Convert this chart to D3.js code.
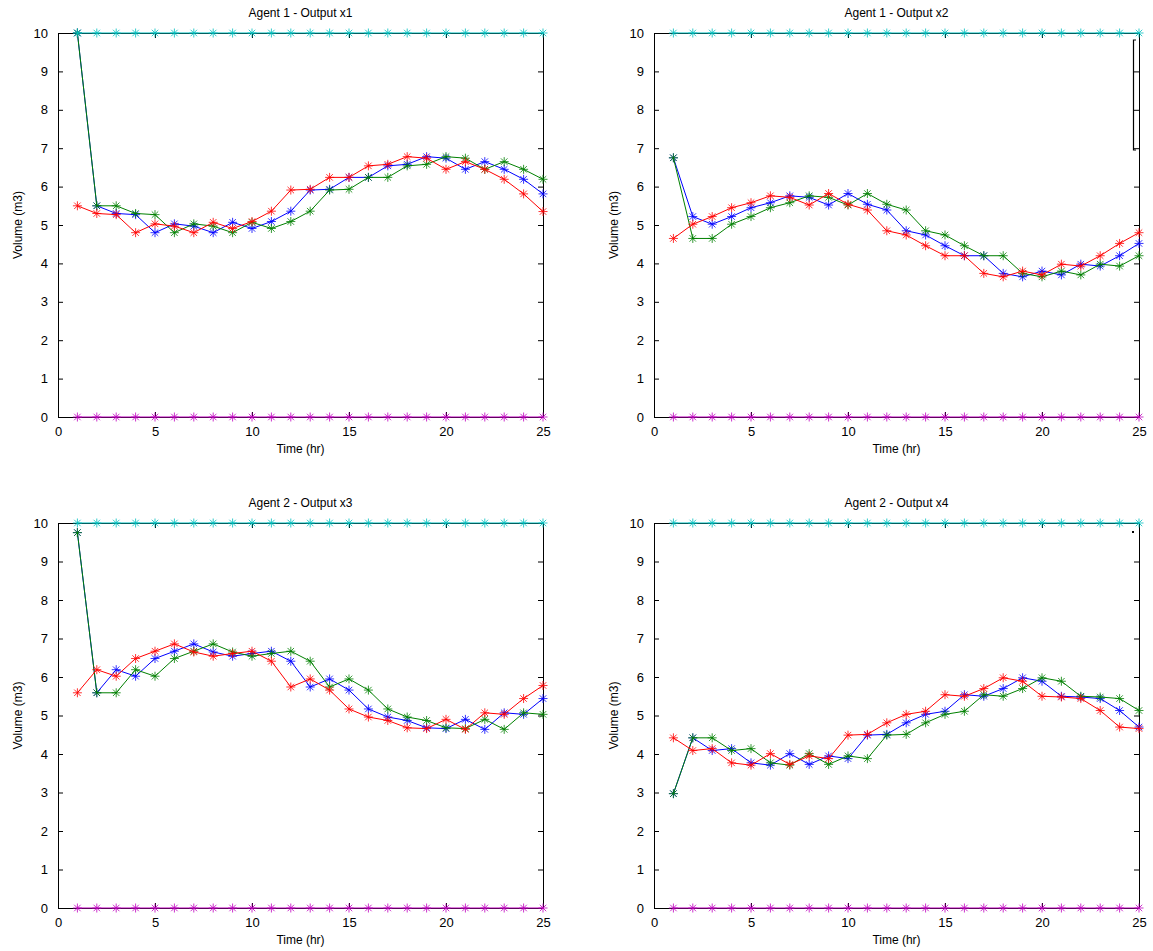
<!DOCTYPE html>
<html><head><meta charset="utf-8">
<script src="https://cdn.jsdelivr.net/npm/d3@7/dist/d3.min.js"></script>
<style>
body{margin:0;background:#fff;}
svg{display:block;}
text{font-family:Arial,"Liberation Sans",sans-serif;fill:#000;}
</style>
</head><body>
<svg id="chart" width="1153" height="951"></svg>
<script>
// ---------- data ----------
const times = [1,2,3,4,5,6,7,8,9,10,11,12,13,14,15,16,17,18,19,20,21,22,23,24,25];
const xTickValues = [0,5,10,15,20,25];
const yTickValues = [0,1,2,3,4,5,6,7,8,9,10];
const panelTitles = ["Agent 1 - Output x1","Agent 1 - Output x2","Agent 2 - Output x3","Agent 2 - Output x4"];
const xLabel = "Time (hr)";
const yLabel = "Volume (m3)";

const upperLimit = [10,10,10,10,10,10,10,10,10,10,10,10,10,10,10,10,10,10,10,10,10,10,10,10,10];
const lowerLimit = [0,0,0,0,0,0,0,0,0,0,0,0,0,0,0,0,0,0,0,0,0,0,0,0,0];

// Output x1
const x1Blue  = [10,5.5,5.3,5.27,4.8,5.03,4.97,4.8,5.07,4.91,5.09,5.36,5.91,5.93,6.24,6.24,6.54,6.58,6.78,6.74,6.45,6.65,6.45,6.19,5.81];
const x1Green = [10,5.5,5.5,5.3,5.27,4.8,5.03,4.97,4.8,5.07,4.91,5.09,5.36,5.91,5.93,6.24,6.24,6.54,6.58,6.78,6.74,6.45,6.65,6.45,6.19];
const x1Red   = [5.5,5.3,5.27,4.8,5.03,4.97,4.8,5.07,4.91,5.09,5.36,5.91,5.93,6.24,6.24,6.54,6.58,6.78,6.74,6.45,6.65,6.45,6.19,5.81,5.35];
// Output x2
const x2Blue  = [6.75,5.22,5.02,5.22,5.45,5.58,5.76,5.72,5.52,5.82,5.54,5.39,4.85,4.74,4.46,4.2,4.2,3.74,3.65,3.8,3.7,3.98,3.93,4.2,4.52];
const x2Green = [6.75,4.65,4.65,5.02,5.22,5.45,5.58,5.76,5.72,5.52,5.82,5.54,5.39,4.85,4.74,4.46,4.2,4.2,3.74,3.65,3.8,3.7,3.98,3.93,4.2];
const x2Red   = [4.65,5.02,5.22,5.45,5.58,5.76,5.72,5.52,5.82,5.54,5.39,4.85,4.74,4.46,4.2,4.2,3.74,3.65,3.8,3.7,3.98,3.93,4.2,4.52,4.8];
// Output x3
const x3Blue  = [9.75,5.59,6.19,6.02,6.48,6.67,6.86,6.65,6.54,6.61,6.67,6.41,5.74,5.95,5.66,5.17,4.96,4.87,4.68,4.66,4.9,4.64,5.07,5.03,5.44];
const x3Green = [9.75,5.59,5.59,6.19,6.02,6.48,6.67,6.86,6.65,6.54,6.61,6.67,6.41,5.74,5.95,5.66,5.17,4.96,4.87,4.68,4.66,4.9,4.64,5.07,5.03];
const x3Red   = [5.59,6.19,6.02,6.48,6.67,6.86,6.65,6.54,6.61,6.67,6.41,5.74,5.95,5.66,5.17,4.96,4.87,4.68,4.66,4.9,4.64,5.07,5.03,5.44,5.78];
// Output x4
const x4Blue  = [2.97,4.42,4.09,4.14,3.77,3.71,4.01,3.73,3.95,3.88,4.49,4.51,4.81,5.03,5.11,5.54,5.5,5.7,5.98,5.89,5.5,5.48,5.44,5.13,4.7];
const x4Green = [2.97,4.42,4.42,4.09,4.14,3.77,3.71,4.01,3.73,3.95,3.88,4.49,4.51,4.81,5.03,5.11,5.54,5.5,5.7,5.98,5.89,5.5,5.48,5.44,5.13];
const x4Red   = [4.42,4.09,4.14,3.77,3.71,4.01,3.73,3.95,3.88,4.49,4.51,4.81,5.03,5.11,5.54,5.5,5.7,5.98,5.89,5.5,5.48,5.44,5.13,4.7,4.66];

const seriesColors = ["#0000ff","#008000","#ff0000","#00bfbf","#bf00bf"];

// ---------- layout ----------
const panels = [
  {left:58,  right:543,  top:33,  bottom:417, series:[x1Blue,x1Green,x1Red,upperLimit,lowerLimit]},
  {left:654, right:1139, top:33,  bottom:417, series:[x2Blue,x2Green,x2Red,upperLimit,lowerLimit]},
  {left:58,  right:543,  top:523, bottom:908, series:[x3Blue,x3Green,x3Red,upperLimit,lowerLimit]},
  {left:654, right:1139, top:523, bottom:908, series:[x4Blue,x4Green,x4Red,upperLimit,lowerLimit]}
];

const svg = d3.select("#chart");

const asterisk = (r) => {
  const d = r*0.72;
  return `M0,${-r}V${r}M${-r},0H${r}M${-d},${-d}L${d},${d}M${-d},${d}L${d},${-d}`;
};

panels.forEach((p, i) => {
  const x = d3.scaleLinear().domain([0,25]).range([p.left,p.right]);
  const y = d3.scaleLinear().domain([0,10]).range([p.bottom,p.top]);
  const g = svg.append("g");

  // axes (ticks inside)
  const ax = g.append("g").attr("transform",`translate(0,${p.bottom})`)
    .call(d3.axisBottom(x).tickValues(xTickValues).tickSizeInner(-5).tickSizeOuter(0).tickPadding(10));
  const axTop = g.append("g").attr("transform",`translate(0,${p.top})`)
    .call(d3.axisTop(x).tickValues(xTickValues).tickSizeInner(-5).tickSizeOuter(0).tickFormat(""));
  const ay = g.append("g").attr("transform",`translate(${p.left},0)`)
    .call(d3.axisLeft(y).tickValues(yTickValues).tickSizeInner(-5).tickSizeOuter(0).tickPadding(10));
  const ayR = g.append("g").attr("transform",`translate(${p.right},0)`)
    .call(d3.axisRight(y).tickValues(yTickValues).tickSizeInner(-5).tickSizeOuter(0).tickFormat(""));
  [ax,axTop,ay,ayR].forEach(a=>{
    a.selectAll("path.domain").attr("stroke","#000").attr("stroke-width",1);
    a.selectAll("line").attr("stroke","#000");
    a.selectAll("text").style("font-size","13px").attr("fill","#000");
  });

  // title and labels
  const cx = (p.left+p.right)/2;
  g.append("text").attr("x",cx).attr("y",p.top-16).attr("text-anchor","middle")
    .style("font-size","12px").text(panelTitles[i]);
  g.append("text").attr("x",cx).attr("y",p.bottom+36).attr("text-anchor","middle")
    .style("font-size","12px").text(xLabel);
  g.append("text").attr("transform",`translate(${p.left-36},${(p.top+p.bottom)/2}) rotate(-90)`)
    .attr("text-anchor","middle").style("font-size","12px").text(yLabel);

  // series
  const line = d3.line().x((d,k)=>x(times[k])).y(d=>y(d));
  p.series.forEach((s, k) => {
    const col = seriesColors[k];
    g.append("path").datum(s).attr("d",line).attr("fill","none").attr("stroke",col).attr("stroke-width",1);
    g.append("g").selectAll("path").data(s).join("path")
      .attr("transform",(d,j)=>`translate(${x(times[j])},${y(d)})`)
      .attr("d",asterisk(4.5)).attr("fill","none").attr("stroke",col).attr("stroke-width",1).attr("opacity",0.8);
  });
});

// small stray artefacts seen in the right-hand panels
svg.append("path").attr("d","M1136,40H1133.5V150H1136").attr("fill","none").attr("stroke","#000").attr("stroke-width",1.2);
svg.append("rect").attr("x",1132).attr("y",531).attr("width",2).attr("height",2).attr("fill","#000");
</script>
</body></html>
